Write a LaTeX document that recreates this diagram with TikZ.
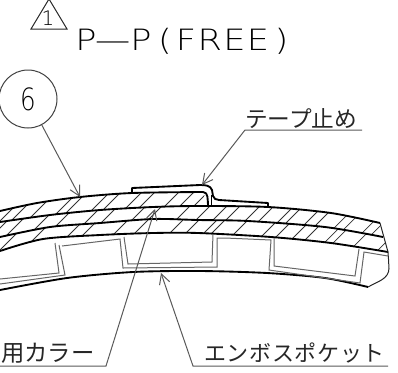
\documentclass[tikz,border=0pt]{standalone}
\usepackage{fontspec}
\newfontfamily\cjkfont{Noto Sans CJK JP}
\newfontfamily\strokefont{DejaVu Sans ExtraLight}
\usetikzlibrary{arrows.meta, positioning}
\newcommand{\HatchAt}[1]{\foreach \x in {#1} \draw[hatchline] (\x-60,280) -- (\x+60,160);}
\tikzset{
    outline/.style={line width=1.4pt, black, line join=round},
    pocket/.style={line width=0.75pt, black!60, line join=miter},
    hatchline/.style={line width=0.55pt, black!80},
    leader/.style={line width=0.75pt, black!65},
    tiparrow/.style={leader, -{Straight Barb[length=7.5pt, width=8pt]}},
    label/.style={anchor=base west, inner sep=0pt, text=black!85},
}
\begin{document}
\begin{tikzpicture}[x=0.75pt, y=-0.75pt]
    \useasboundingbox (0,0) rectangle (398,372);

    % hatching, one scope for each band
    \begin{scope}
      \clip (0,211) -- (37,203) -- (80,197) -- (132,193) -- (203,192) -- (208,205) -- (153,207) -- (100,210) -- (50,215) -- (0,222) -- cycle;
      \HatchAt{1,12,28,50,59,82,93,114,127,151,166,180}
    \end{scope}
    \begin{scope}
      \clip (0,222) -- (50,215) -- (100,210) -- (153,207) -- (198,206) -- (268,207) -- (331,213) -- (380,223) -- (383,237) -- (325,227) -- (248,221) -- (198,220) -- (153,219) -- (100,223) -- (50,227) -- (0,237) -- cycle;
      \HatchAt{8,22,44,62,88,104,132,148,176,196,213,226,246,260,280,289,309,321,342,353,375,386}
    \end{scope}
    \begin{scope}
      \clip (0,237) -- (50,227) -- (100,223) -- (153,219) -- (198,220) -- (248,221) -- (325,227) -- (383,237) -- (388,252) -- (331,243) -- (271,237) -- (198,233) -- (153,233) -- (100,235) -- (43,239) -- (0,251) -- cycle;
      \HatchAt{30,53,84,98,128,148,183,199,217,225,248,278,293,311,325,347,356,380,408}
    \end{scope}

    % layers
    \draw[outline] plot[smooth] coordinates {(0,211) (37,203) (80,197) (132,193) (203,192)} to[out=0, in=95] (208,205);
    \draw[outline] plot[smooth] coordinates {(0,222) (50,215) (100,210) (153,207) (198,206) (268,207) (331,213) (380,223)};
    \draw[outline] plot[smooth] coordinates {(0,237) (50,227) (100,223) (153,219) (198,220) (248,221) (325,227) (383,237)};
    \draw[outline] plot[smooth] coordinates {(0,251) (43,239) (100,235) (153,233) (198,233) (271,237) (331,243) (388,252)};
    \draw[outline] plot[smooth] coordinates {(0,290) (67,278) (133,272) (200,271) (267,273) (325,278) (368,287)};

    % tape
    \draw[outline] (132,193) -- (132,188) -- (200,185) to[out=0, in=110] (212,190) -- (213,196) to[out=-80, in=175] (219,200) -- (268,203) -- (268,207);
    \draw[line width=0.75pt] (211,195) -- (211,205);

    % end of the strip
    \draw[line width=0.75pt, black!85] (380,223) -- (388,252);
    \draw[line width=0.75pt, black!85] (388,252) to[out=85, in=-85] (388,256) to[out=85, in=-90] (389,268) to[out=-90, in=30] (368,287);

    % emboss pockets
    \draw[pocket] (55,243) -- (59,273) -- (0,279);
    \draw[pocket] (59,245) -- (65,275) -- (0,284);
    \draw[pocket] (62,246) -- (120,239) -- (123,268) -- (217,267) -- (217,238) -- (225,238) -- (271,240) -- (269,270) -- (360,283) -- (364,252) -- (388,256);
    \draw[pocket] (124,237) -- (128,264) -- (212,262) -- (213,234);
    \draw[pocket] (274,238) -- (274,266) -- (355,276) -- (359,249);

    % balloon and revision mark
    \node[circle, draw=black!75, line width=0.75pt, minimum size=43.5pt, inner sep=0pt, font=\strokefont\fontsize{23}{23}\selectfont, text=black] (balloon) at (28,99) {\scalebox{.8}[1]{6}};
    \draw[line width=0.75pt, black!85] (31,29) -- (49,-1) -- (67,29) -- cycle;
    \node[inner sep=0pt, font=\strokefont\fontsize{15}{15}\selectfont, text=black] (revno) at (48,18) {1};

    % labels
    \node[label, text=black, font=\strokefont\fontsize{22}{22}\selectfont\addfontfeature{FakeStretch=1.2}] (title) at (75,50) {P\hspace{-1pt}—\hspace{0pt}P\hspace{5pt}(\hspace{3pt}F\hspace{1pt}R\hspace{1pt}E\hspace{1pt}E\hspace{4pt})};
    \node[label, font=\cjkfont\fontsize{17}{17}\selectfont] (tape) at (245,127) {テープ止め};
    \node[label, font=\cjkfont\fontsize{17.5}{18}\selectfont] (collar) at (1,361) {用カラー};
    \node[label, font=\cjkfont\fontsize{16.5}{17}\selectfont\addfontfeature{LetterSpace=3}] (pocketlabel) at (204,361) {エンボスポケット};

    % leaders
    \coordinate (tapeend) at (362,130);
    \coordinate (tapeknee) at (245,130);
    \coordinate (tapetip) at (202,185);
    \coordinate (balloontip) at (80,197);
    \coordinate (collarend) at (0,366);
    \coordinate (collarknee) at (106,366);
    \coordinate (collartip) at (155,209);
    \coordinate (pocketend) at (388,366);
    \coordinate (pocketknee) at (193,366);
    \coordinate (pockettip) at (161,273);
    \draw[tiparrow] (tapeend) -- (tapeknee) -- (tapetip);
    \draw[tiparrow] (balloon) -- (balloontip);
    \draw[tiparrow] (collarend) -- (collarknee) -- (collartip);
    \draw[tiparrow] (pocketend) -- (pocketknee) -- (pockettip);
  \end{tikzpicture}
\end{document}
